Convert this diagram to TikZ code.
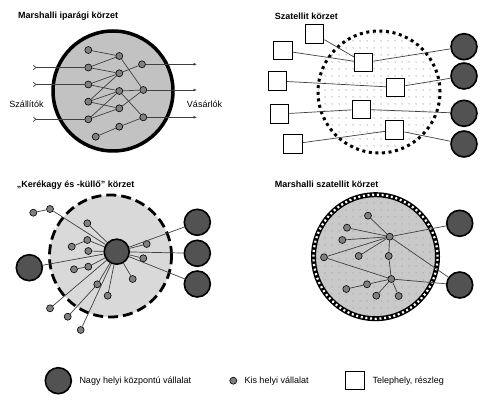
\documentclass[tikz,border=0pt]{standalone}
\usepackage{fontspec}
\setmainfont{Liberation Sans}
\usetikzlibrary{arrows.meta,patterns.meta}

\definecolor{kisszin}{gray}{0.5}
\definecolor{nagyszin}{gray}{0.32}
\definecolor{iparszin}{gray}{0.76}
\definecolor{agyszin}{gray}{0.85}
\definecolor{mszatszin}{gray}{0.79}
\definecolor{vonal}{gray}{0.25}

\begin{document}
\begin{tikzpicture}[x=1pt,y=-1pt,
    kis/.style={circle,draw,line width=.6pt,fill=kisszin,minimum size=7pt,inner sep=0pt},
    nagy/.style={circle,draw,line width=1.6pt,fill=nagyszin,minimum size=26pt,inner sep=0pt},
    telep/.style={rectangle,draw,line width=1pt,fill=white,minimum size=18.5pt,inner sep=0pt},
    el/.style={line width=.7pt,draw=vonal},
    be/.style={el,{Straight Barb[reversed,length=2.5pt,width=4.5pt]}-},
    ki/.style={el,-{Latex[length=3.5pt,width=3pt]}},
    cim/.style={anchor=west,inner sep=0pt,font=\bfseries\fontsize{9}{11}\selectfont},
    felirat/.style={inner sep=0pt,font=\fontsize{9}{11}\selectfont}]

    \useasboundingbox (0,0) rectangle (487,406);

    % Marshalli iparagi korzet
    \node[cim] (cim1) at (18,15.7) {Marshalli iparági körzet};
    \node[circle,draw,line width=3.5pt,fill=iparszin,minimum size=120pt] (ipar) at (113,91) {};

    \node[kis] (a1) at (88.3,50) {};
    \node[kis] (a2) at (88.3,67.5) {};
    \node[kis] (a3) at (88.3,84.5) {};
    \node[kis] (a4) at (88.3,101.7) {};
    \node[kis] (a5) at (88.3,119.3) {};
    \node[kis] (a6) at (95.7,136.7) {};
    \node[kis] (b1) at (119.3,56) {};
    \node[kis] (b2) at (119.3,73.3) {};
    \node[kis] (b3) at (119.3,91) {};
    \node[kis] (b4) at (119.3,108.3) {};
    \node[kis] (b5) at (119.3,126.7) {};
    \node[kis] (c1) at (142,64.3) {};
    \node[kis] (c2) at (143.3,90) {};
    \node[kis] (c3) at (143.3,117.3) {};

    \foreach \u/\v in {a1/b1,a2/b1,a2/b2,a3/b2,a3/b3,a4/b2,a4/b3,a4/b4,a5/b3,a5/b4,a6/b5,
                       b1/c2,b2/c1,b3/c2,b3/c3,b4/c2,b5/c3}
        \draw[el] (\u) -- (\v);

    \coordinate (be1) at (33,67.5);
    \coordinate (be2) at (33,84.5);
    \coordinate (be3) at (33,119.3);
    \draw[be] (be1) -- (a2);
    \draw[be] (be2) -- (a3);
    \draw[be] (be3) -- (a5);
    \coordinate (ki1) at (197,64.3);
    \coordinate (ki2) at (197,90);
    \coordinate (ki3) at (197,117.3);
    \draw[ki] (c1) -- (ki1);
    \draw[ki] (c2) -- (ki2);
    \draw[ki] (c3) -- (ki3);

    \node[felirat] (szall) at (26.5,104) {Szállítók};
    \node[felirat] (vasar) at (204.5,104) {Vásárlók};

    % Szatellit korzet
    \node[cim] (cim2) at (274.7,16.7) {Szatellit körzet};
    \node[circle,minimum size=122pt,pattern={Dots[distance=6.5pt,radius=.6pt]},pattern color=gray!85!black,
          draw,line width=3pt,dash pattern=on 3pt off 3.6pt] (szat) at (379,92) {};

    \node[telep] (s1) at (363.7,62.7) {};
    \node[telep] (s2) at (395.7,87.3) {};
    \node[telep] (s3) at (361.3,109.3) {};
    \node[telep] (s4) at (394.7,130) {};
    \node[telep] (o1) at (314.7,34) {};
    \node[telep] (o2) at (283,50.7) {};
    \node[telep] (o3) at (277.3,81) {};
    \node[telep] (o4) at (279.7,114) {};
    \node[telep] (o5) at (293,144) {};
    \node[nagy] (g1) at (464,46.7) {};
    \node[nagy] (g2) at (464,76) {};
    \node[nagy] (g3) at (464,113.3) {};
    \node[nagy] (g4) at (464,144) {};

    \foreach \u/\v in {o1/s1,o2/s1,s1/g1,o3/s2,s2/g2,o4/s3,s3/g3,o5/s4,s4/g4}
        \draw[el] (\u) -- (\v);

    % Kerekagy es kullo korzet
    \node[cim] (cim3) at (16.7,185) {„Kerékagy és -küllő" körzet};
    \node[circle,draw,line width=2.8pt,dash pattern=on 10pt off 5pt,fill=agyszin,
          minimum size=122pt] (kerek) at (110.5,256) {};

    \node[nagy,minimum size=25pt] (agy) at (116.7,251.7) {};
    \node[nagy] (bal) at (29.3,267.7) {};
    \node[nagy] (jobb1) at (197.3,222.3) {};
    \node[nagy] (jobb2) at (197.3,253.3) {};
    \node[nagy] (jobb3) at (197.3,284) {};

    \node[kis] (k1) at (33.3,212.7) {};
    \node[kis] (k2) at (50,209) {};
    \node[kis] (k3) at (87.3,223.3) {};
    \node[kis] (k4) at (87.3,240) {};
    \node[kis] (k5) at (71.7,246.7) {};
    \node[kis] (k6) at (88.3,251) {};
    \node[kis] (k7) at (88.3,266.7) {};
    \node[kis] (k8) at (74,269.3) {};
    \node[kis] (k9) at (146.7,244) {};
    \node[kis] (k10) at (143.3,258.3) {};
    \node[kis] (k11) at (132.7,279) {};
    \node[kis] (k12) at (97.3,284.3) {};
    \node[kis] (k13) at (107.7,295.7) {};
    \node[kis] (k14) at (50,308.3) {};
    \node[kis] (k15) at (67.7,316.7) {};
    \node[kis] (k16) at (80.7,330) {};

    \foreach \u/\v in {k1/k2,k2/agy,k3/agy,k5/k4,k4/agy,k6/agy,k8/k7,k7/agy,
                       agy/k9,agy/k10,agy/k11,k15/k12,k12/agy,k13/agy,k14/agy,k16/agy,
                       bal/agy,agy/jobb1,agy/jobb2,agy/jobb3}
        \draw[el] (\u) -- (\v);

    % Marshalli szatellit korzet
    \node[cim] (cim4) at (274.7,184) {Marshalli szatellit körzet};
    \fill[mszatszin] (375.5,256.7) circle[radius=62pt];
    \node[circle,minimum size=124pt,pattern={Dots[distance=6.5pt,radius=.5pt]},pattern color=gray!75!black,
          draw,line width=5pt] (mszat) at (375.5,256.7) {};
    \draw[white,line width=2.2pt,dash pattern=on 2pt off 2.7pt] (mszat.center) circle[radius=62pt];

    \node[kis] (h1) at (389.7,236.7) {};
    \node[kis] (h2) at (391.3,279) {};
    \node[kis] (m1) at (368,215.7) {};
    \node[kis] (m2) at (347,227.7) {};
    \node[kis] (m3) at (342.3,240) {};
    \node[kis] (m4) at (358.7,256) {};
    \node[kis] (m5) at (388.7,256) {};
    \node[kis] (m6) at (324,257.3) {};
    \node[kis] (m7) at (367,284.3) {};
    \node[kis] (m8) at (346.3,289) {};
    \node[kis] (m9) at (376.3,295.7) {};
    \node[kis] (m10) at (398.7,296) {};
    \node[nagy] (n1) at (459.7,223.3) {};
    \node[nagy] (n2) at (459.7,285) {};

    \foreach \u/\v in {m1/h1,m2/h1,m3/h1,m4/h1,m6/h1,h1/m5,m5/h2,m6/h2,m8/m7,m7/h2,
                       m9/h2,m10/h2,h1/n1,h1/n2,h2/n2}
        \draw[el] (\u) -- (\v);

    % jelmagyarazat
    \node[nagy] (jnagy) at (58.3,380.7) {};
    \node[felirat,anchor=west] (tnagy) at (79.3,380.7) {Nagy helyi központú vállalat};
    \node[kis] (jkis) at (233.3,380.7) {};
    \node[felirat,anchor=west] (tkis) at (244.3,380.7) {Kis helyi vállalat};
    \node[telep] (jtelep) at (355,380.7) {};
    \node[felirat,anchor=west] (ttelep) at (372.3,380.7) {Telephely, részleg};
\end{tikzpicture}
\end{document}
